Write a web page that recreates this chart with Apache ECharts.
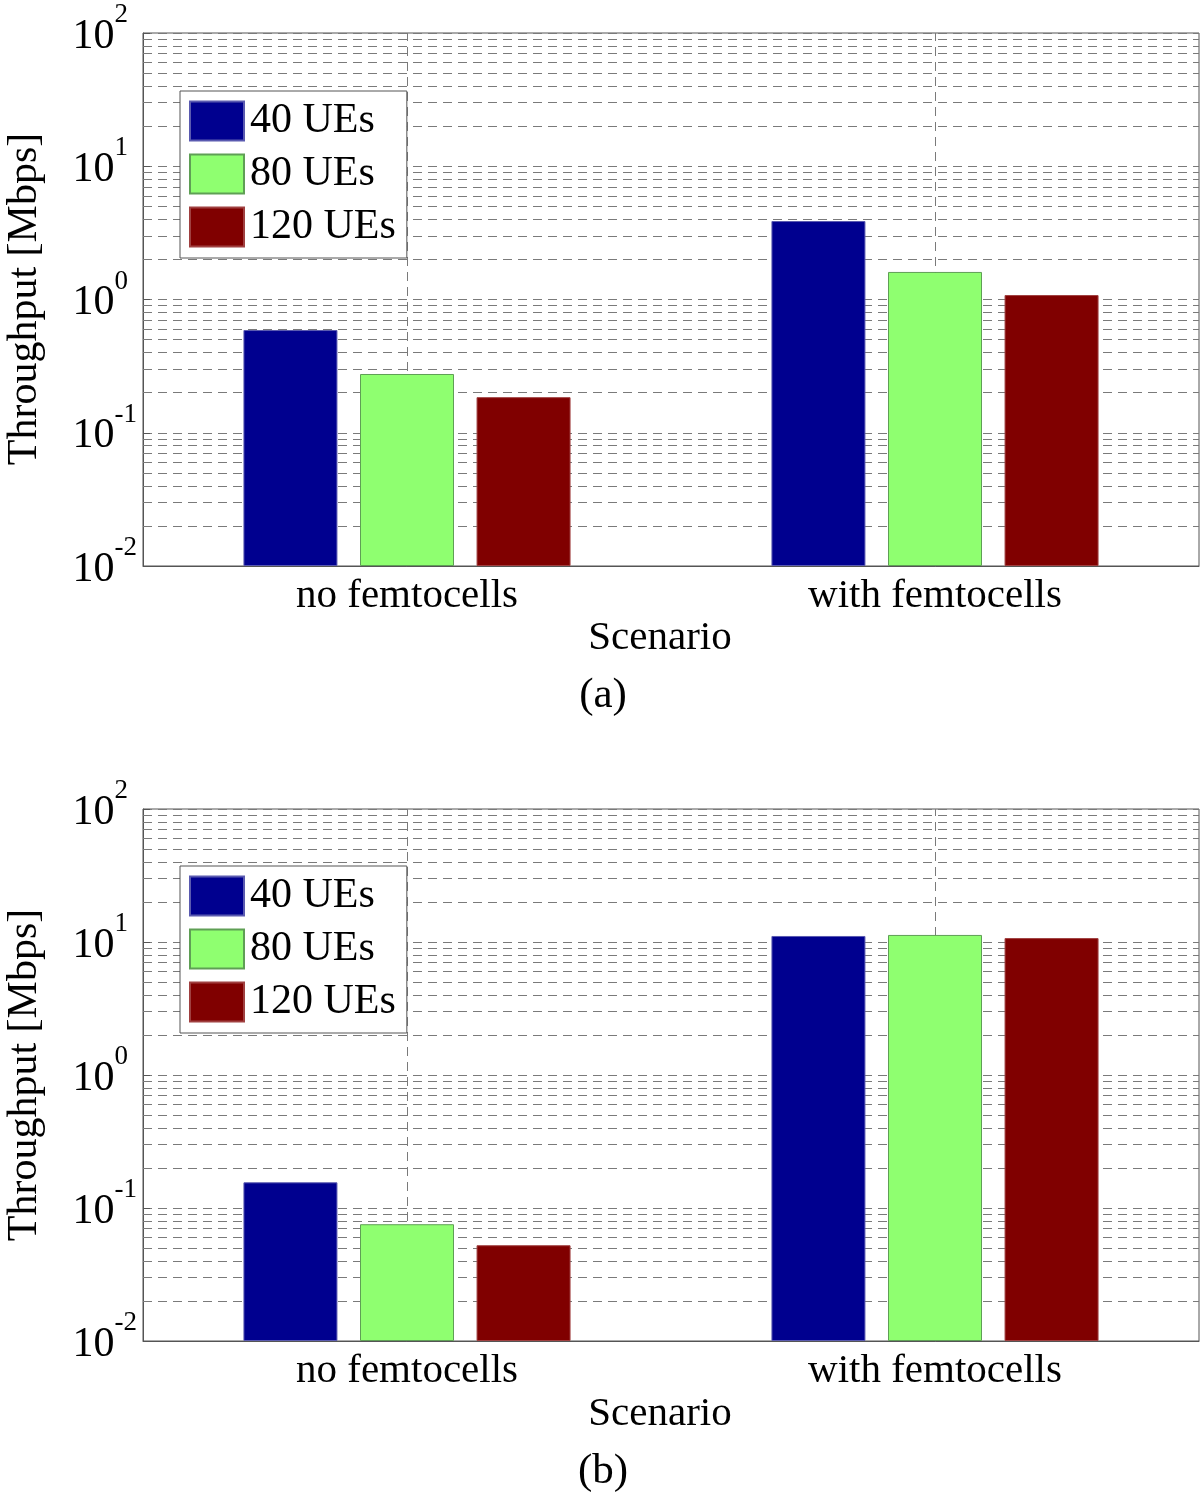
<!DOCTYPE html>
<html>
<head>
<meta charset="utf-8">
<script src="https://cdn.jsdelivr.net/npm/echarts@6/dist/echarts.min.js"></script>
<style>
  body { margin: 0; background: #fff; }
  #chart { width: 1200px; height: 1498px; }
</style>
</head>
<body>
<div id="chart"></div>
<script>
// categories / series
const scenarios = ["no femtocells", "with femtocells"];
const seriesNames = ["40 UEs", "80 UEs", "120 UEs"];
// (a)
const a40 = [0.59, 3.88];
const a80 = [0.276, 1.61];
const a120 = [0.185, 1.08];
// (b)
const b40 = [0.156, 11.1];
const b80 = [0.0755, 11.3];
const b120 = [0.0525, 10.7];
// log decades used for the minor grid
const decades = [0.01, 0.1, 1, 10];

const serif = "Liberation Serif";
const colors = ["#00008f", "#8fff70", "#800000"];
const edges = ["#5a5ab0", "#5f9f55", "#a04040"];
const gridColor = "#7a7a7a";

// minor grid values 2..9 of each decade
const minorVals = [];
decades.forEach(d => {
  for (let k = 2; k <= 9; k++) minorVals.push(+(d * k).toPrecision(3));
});

const myChart = echarts.init(document.getElementById("chart"));

const yAxisOf = (gi) => ({
  type: "log",
  logBase: 10,
  min: 0.01,
  max: 100,
  startValue: 0.01,
  gridIndex: gi,
  axisLine: { show: true, lineStyle: { color: "#555", width: 1 } },
  axisTick: { show: true, inside: true, length: 7, lineStyle: { color: "#555" } },
  splitLine: { show: true, lineStyle: { color: gridColor, type: [9, 6], width: 1 } },
  axisLabel: {
    margin: 6,
    padding: [0, 0, 7, 0],
    formatter: function (v) {
      const e = Math.round(Math.log10(v));
      return "{b|10}{" + (e < 0 ? "s" : "p") + "|" + e + "}";
    },
    rich: {
      b: { fontSize: 42, fontFamily: serif, color: "#000", lineHeight: 56, verticalAlign: "bottom" },
      s: { fontSize: 27, fontFamily: serif, color: "#000", lineHeight: 27, verticalAlign: "top" },
      p: { fontSize: 27, fontFamily: serif, color: "#000", lineHeight: 27, verticalAlign: "top",
           padding: [0, 9, 0, 0] }
    }
  }
});

const xAxisOf = (gi) => ({
  type: "category",
  data: scenarios,
  gridIndex: gi,
  axisLine: { show: true, lineStyle: { color: "#555", width: 1 } },
  axisTick: { show: true, inside: true, alignWithLabel: true, length: 7, lineStyle: { color: "#555" } },
  splitLine: { show: false },
  axisLabel: { margin: 10, fontSize: 41, fontFamily: serif, color: "#000" }
});

const barsOf = (gi, data) => data.map((d, i) => ({
  name: seriesNames[i],
  type: "bar",
  xAxisIndex: gi,
  yAxisIndex: gi,
  data: d,
  barWidth: 94,
  barGap: "24%",
  z: 2,
  itemStyle: { color: colors[i], borderColor: edges[i], borderWidth: 1 }
}));

const gridLinesOf = (gi) => ({
  name: "grid" + gi,
  type: "line",
  xAxisIndex: gi,
  yAxisIndex: gi,
  data: [],
  silent: true,
  markLine: {
    silent: true,
    z: 1,
    symbol: ["none", "none"],
    label: { show: false },
    emphasis: { disabled: true },
    lineStyle: { color: gridColor, type: [9, 6], width: 1 },
    data: minorVals.map(v => ({ yAxis: v })).concat(scenarios.map(c => ({ xAxis: c })))
  }
});

const legendOf = (top) => ({
  data: seriesNames,
  orient: "vertical",
  left: 180,
  top: top,
  icon: "rect",
  itemWidth: 54,
  itemHeight: 39,
  itemGap: 11,
  padding: [9, 11, 10, 9],
  backgroundColor: "#fff",
  borderColor: "#555",
  borderWidth: 1,
  selectedMode: false,
  textStyle: { fontSize: 42, fontFamily: serif, color: "#000", lineHeight: 39, padding: [0, 0, 0, 1] }
});

const textOf = (x, y, text, size, rot) => ({
  type: "text",
  x: x,
  y: y,
  rotation: rot || 0,
  style: {
    text: text,
    fontSize: size,
    fontFamily: serif,
    fill: "#000",
    align: "center",
    verticalAlign: "middle"
  }
});

const option = {
  backgroundColor: "#fff",
  animation: false,
  grid: [
    { left: 143, right: 1, top: 33, height: 533, show: true, borderColor: "#555", borderWidth: 1, backgroundColor: "transparent" },
    { left: 143, right: 1, top: 809, height: 532, show: true, borderColor: "#555", borderWidth: 1, backgroundColor: "transparent" }
  ],
  xAxis: [xAxisOf(0), xAxisOf(1)],
  yAxis: [yAxisOf(0), yAxisOf(1)],
  legend: [legendOf(91), legendOf(866)],
  series: [
    gridLinesOf(0),
    gridLinesOf(1)
  ].concat(barsOf(0, [a40, a80, a120]), barsOf(1, [b40, b80, b120])),
  graphic: [
    textOf(25, 299, "Throughput [Mbps]", 42, Math.PI / 2),
    textOf(25, 1075, "Throughput [Mbps]", 42, Math.PI / 2),
    textOf(660, 638, "Scenario", 41),
    textOf(660, 1414, "Scenario", 41),
    textOf(603, 696, "(a)", 43),
    textOf(603, 1472, "(b)", 43)
  ]
};
myChart.setOption(option);
</script>
</body>
</html>
